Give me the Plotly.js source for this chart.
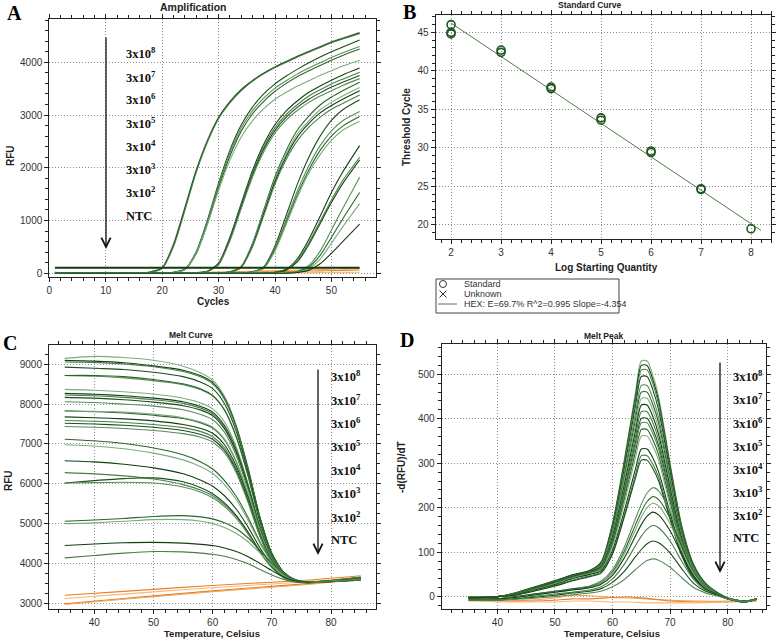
<!DOCTYPE html>
<html><head><meta charset="utf-8">
<script src="https://cdn.plot.ly/plotly-3.0.1.min.js"></script>
<style>html,body{margin:0;padding:0;background:#fff}#plot{width:778px;height:644px}</style>
</head><body><div id="plot"></div>
<script>
// ---------- Panel A: amplification (RFU per cycle) ----------
const ampCycles = [1,4,8,12,16,18,20,22,24,26,28,30,32,34,36,38,40,42,44,46,48,50,52,55];
const amp3e8 = [
 [20,5,0,0,5,30,110,560,1250,1950,2520,2960,3250,3480,3650,3790,3910,4020,4120,4210,4300,4390,4460,4570],
 [15,3,0,0,4,25,100,530,1220,1930,2500,2950,3250,3480,3650,3790,3910,4010,4110,4200,4290,4380,4450,4555],
 [10,0,0,0,3,20,90,500,1180,1900,2480,2930,3230,3460,3640,3780,3900,4000,4100,4190,4280,4370,4440,4540]];
const amp3e7 = [
 [10,2,0,0,0,0,5,20,80,400,1000,1710,2330,2810,3150,3400,3590,3740,3870,3990,4100,4200,4290,4420],
 [10,2,0,0,0,0,4,18,75,390,980,1670,2280,2750,3080,3320,3510,3650,3780,3890,3990,4090,4180,4300],
 [5,0,0,0,0,0,3,15,65,360,930,1620,2220,2690,3020,3260,3450,3600,3730,3840,3940,4040,4130,4250],
 [5,0,0,0,0,0,3,15,70,370,920,1570,2140,2580,2890,3120,3300,3430,3550,3650,3750,3840,3930,4040]];
const amp3e6 = [
 [10,0,0,0,0,0,0,0,0,10,40,195,680,1320,1945,2445,2820,3080,3270,3430,3550,3660,3760,3890],
 [10,0,0,0,0,0,0,0,0,8,38,185,660,1290,1900,2390,2760,3010,3200,3360,3480,3590,3680,3810],
 [8,0,0,0,0,0,0,0,0,7,35,175,640,1260,1860,2350,2710,2960,3150,3300,3420,3530,3620,3750],
 [8,0,0,0,0,0,0,0,0,6,30,160,610,1220,1820,2300,2660,2910,3090,3240,3360,3460,3560,3690]];
const amp3e5 = [
 [5,0,0,0,0,0,0,0,0,0,0,5,30,130,565,1200,1830,2330,2720,2980,3190,3340,3460,3620],
 [5,0,0,0,0,0,0,0,0,0,0,5,28,125,550,1170,1780,2270,2650,2890,3100,3240,3360,3520],
 [5,0,0,0,0,0,0,0,0,0,0,4,25,115,520,1130,1740,2220,2590,2840,3040,3180,3300,3460],
 [5,0,0,0,0,0,0,0,0,0,0,4,22,110,500,1090,1690,2160,2520,2770,2960,3110,3220,3380]];
const amp3e4 = [
 [5,0,0,0,0,0,0,0,0,0,0,0,0,5,28,120,520,1100,1700,2200,2600,2900,3100,3290],
 [5,0,0,0,0,0,0,0,0,0,0,0,0,5,25,110,480,1020,1570,2040,2420,2700,2890,3065],
 [5,0,0,0,0,0,0,0,0,0,0,0,0,4,22,100,450,970,1500,1960,2330,2600,2790,2970],
 [5,0,0,0,0,0,0,0,0,0,0,0,0,4,20,90,420,930,1450,1900,2250,2520,2710,2880]];
const amp3e3 = [
 [5,0,0,0,0,0,0,0,0,0,0,0,0,0,0,5,20,80,280,640,1080,1530,1920,2420],
 [5,0,0,0,0,0,0,0,0,0,0,0,0,0,0,5,18,70,250,580,980,1390,1760,2200],
 [5,0,0,0,0,0,0,0,0,0,0,0,0,0,0,3,15,60,220,540,940,1340,1700,2150]];
const amp3e2 = [
 [5,0,0,0,0,0,0,0,0,0,0,0,0,0,0,0,0,5,40,150,420,820,1230,1820],
 [5,0,0,0,0,0,0,0,0,0,0,0,0,0,0,0,0,3,30,120,340,680,1030,1530],
 [5,0,0,0,0,0,0,0,0,0,0,0,0,0,0,0,0,2,20,90,270,570,880,1320],
 [5,0,0,0,0,0,0,0,0,0,0,0,0,0,0,0,0,2,15,60,180,380,600,930]];
const ampNTC = [
 [0,0,0,0,0,0,0,5,10,15,20,25,30,35,40,45,50,55,60,66,72,78,84,92],
 [0,0,0,0,0,0,0,0,3,6,9,12,15,18,22,26,30,34,38,42,46,50,55,62],
 [5,0,0,-3,-5,-5,-5,-5,-5,-5,-4,-3,-2,0,2,4,6,8,10,12,14,16,18,20]];
const thresholdCycles = [1,55];
const thresholdRFU = [105,105];

// ---------- Panel B: standard curve ----------
const stdLogQ = [2,2,2,3,3,4,4,5,5,6,6,7,7,8];
const stdCt   = [46.0,45.0,44.8,42.7,42.4,37.9,37.7,33.9,33.6,29.6,29.4,24.7,24.6,19.5];
const regLogQ = [2,8.2];
const regCt   = [46.2,19.3];

// ---------- Panel C: melt curve ----------
const meltT = [35,40,45,50,55,58,60,62,64,66,68,70,72,74,76,80,85];
const meltHigh = [
 [9150,9200,9170,9100,8950,8780,8600,8200,7460,6400,5160,4260,3780,3590,3530,3570,3660],
 [9100,9080,9040,8960,8850,8710,8540,8150,7430,6370,5150,4250,3780,3590,3530,3570,3650],
 [9060,9050,9010,8940,8820,8680,8510,8120,7400,6350,5140,4250,3770,3590,3530,3570,3650],
 [8930,8900,8870,8800,8690,8550,8390,8010,7310,6280,5100,4230,3770,3580,3530,3560,3640],
 [8720,8700,8660,8590,8490,8360,8200,7840,7160,6180,5030,4200,3760,3580,3530,3560,3640],
 [8720,8720,8690,8620,8510,8380,8220,7860,7180,6200,5040,4200,3760,3580,3530,3560,3630],
 [8370,8350,8310,8250,8150,8030,7880,7550,6920,6000,4930,4160,3750,3580,3530,3560,3620],
 [8270,8250,8210,8150,8060,7940,7800,7460,6850,5950,4900,4150,3740,3580,3530,3560,3620],
 [8230,8210,8170,8110,8020,7900,7760,7430,6820,5930,4890,4140,3740,3580,3530,3560,3610],
 [8170,8150,8110,8050,7960,7850,7710,7380,6780,5900,4880,4130,3740,3580,3530,3560,3610],
 [8060,8040,8000,7950,7860,7740,7610,7290,6700,5840,4850,4120,3730,3570,3530,3560,3610],
 [7830,7810,7780,7720,7640,7530,7400,7100,6540,5720,4780,4090,3720,3570,3530,3560,3600],
 [7820,7820,7800,7750,7660,7550,7420,7120,6560,5730,4790,4090,3720,3570,3530,3560,3600],
 [7680,7660,7630,7580,7490,7390,7270,6980,6440,5650,4730,4070,3720,3570,3530,3560,3600],
 [7590,7570,7540,7490,7410,7310,7180,6900,6370,5600,4710,4060,3710,3570,3530,3550,3600],
 [7520,7500,7470,7420,7340,7240,7120,6840,6320,5560,4690,4050,3710,3570,3530,3550,3600],
 [7440,7420,7390,7340,7260,7170,7050,6780,6270,5520,4670,4040,3710,3570,3530,3550,3590]];
const meltMid = [
 [7120,7080,7010,6900,6730,6550,6370,6080,5680,5150,4540,4040,3710,3570,3530,3550,3600],
 [6980,6950,6880,6770,6600,6430,6260,5980,5600,5080,4500,4020,3700,3560,3530,3550,3600],
 [6580,6550,6490,6400,6250,6090,5940,5700,5360,4910,4390,3960,3680,3560,3530,3550,3590],
 [6280,6250,6200,6120,5980,5840,5700,5480,5180,4770,4300,3920,3670,3560,3530,3550,3590],
 [6020,6080,6130,6150,6050,5900,5750,5520,5200,4780,4300,3900,3650,3550,3520,3550,3590],
 [6020,6030,6040,6020,5920,5790,5650,5430,5130,4730,4270,3890,3650,3550,3520,3550,3590]];
const meltLow = [
 [5060,5090,5130,5180,5200,5170,5120,5020,4870,4640,4330,4000,3720,3570,3530,3550,3600],
 [5000,5020,5060,5100,5100,5060,5000,4900,4750,4540,4260,3960,3700,3560,3520,3550,3590],
 [4450,4490,4520,4530,4510,4480,4450,4390,4300,4170,4000,3820,3660,3560,3520,3540,3580],
 [4140,4200,4260,4300,4290,4260,4230,4180,4100,3990,3850,3710,3600,3530,3510,3540,3580]];
const meltNtcT = [35,45,55,65,75,85];
const meltNTC = [
 [3200,3300,3400,3490,3570,3690],
 [3120,3230,3340,3440,3530,3650],
 [2990,3120,3250,3370,3480,3620],
 [2970,3100,3230,3350,3460,3600]];

// ---------- Panel D: melt peak ----------
const peakT = [35,40,43,46,50,53,56,58,60,62,64,65,66,67,68,70,72,74,76,78,80,83,85];
const peakHigh = [
 [0,0,8,20,35,48,58,78,166,305,460,530,530,498,449,300,161,75,32,11,-3,-10,-5],
 [-2,0,8,20,36,49,59,77,163,299,452,520,520,488,441,294,158,74,32,11,-3,-10,-5],
 [0,0,7,19,34,47,57,76,160,294,443,510,510,479,433,288,155,72,31,10,-3,-10,-5],
 [-3,0,7,19,34,47,57,75,155,285,430,495,495,465,420,280,150,70,30,10,-3,-10,-5],
 [0,0,7,18,33,46,56,73,149,274,413,475,475,446,403,269,144,67,29,10,-3,-10,-5],
 [-2,0,6,18,33,46,56,72,144,265,400,460,460,432,391,260,140,65,28,9,-3,-11,-5],
 [0,0,6,17,32,45,55,70,140,257,387,446,446,419,378,252,135,63,27,9,-3,-11,-6],
 [-3,0,6,17,32,45,55,68,135,248,374,431,431,405,365,244,131,61,26,9,-4,-11,-6],
 [0,0,5,16,31,44,54,66,130,239,361,416,416,391,353,235,126,59,25,8,-4,-11,-6],
 [-2,0,5,16,31,44,54,65,126,231,348,401,401,377,340,227,122,57,24,8,-4,-11,-6],
 [0,0,5,15,30,43,53,64,122,225,340,391,391,367,332,221,119,55,24,8,-4,-11,-6],
 [-3,0,5,15,30,43,53,62,118,217,327,376,376,353,319,213,114,53,23,8,-4,-12,-6],
 [0,0,4,14,29,42,52,60,113,208,314,361,361,339,307,204,110,51,22,7,-4,-12,-6],
 [-2,0,4,13,27,40,50,58,104,191,288,332,332,312,281,188,101,47,20,7,-4,-12,-6],
 [0,0,3,12,25,37,47,55,99,182,275,317,317,298,269,179,96,45,19,6,-4,-12,-6],
 [-3,0,3,11,24,35,45,53,96,177,267,307,307,288,260,174,93,43,19,6,-4,-12,-6]];
const peakLow = [
 [-5,-5,0,5,12,18,24,35,61,110,176,208,233,245,238,191,123,61,25,7,-5,-12,-6],
 [-5,-5,0,5,12,17,22,32,56,101,162,191,214,225,218,176,113,56,23,7,-5,-12,-6],
 [-5,-5,-2,3,10,15,20,30,53,95,151,179,200,210,204,164,105,53,21,6,-5,-12,-6],
 [-5,-5,-2,3,10,15,20,28,48,86,137,162,181,190,184,148,95,48,19,6,-5,-12,-6],
 [-8,-8,-5,0,6,10,15,22,40,72,115,136,152,160,155,125,80,40,16,5,-5,-12,-6],
 [-8,-8,-5,-2,3,8,12,18,32,56,90,106,119,125,121,98,63,31,13,4,-5,-12,-6],
 [-8,-8,-6,-4,0,4,8,12,22,38,61,72,81,85,82,66,43,21,9,2,-5,-12,-6]];
const peakNtcT = [35,40,45,50,53,56,60,63,66,70,75,80,85];
const peakNTC = [
 [-5,-8,-8,-3,3,2,-2,-3,-5,-8,-10,-10,-8],
 [-8,-10,-10,-8,-5,-5,-2,-1,-4,-10,-12,-12,-10],
 [-10,-12,-12,-12,-10,-10,-12,-12,-14,-14,-14,-12,-10]];

const dilutionLabels = ['3x10<sup>8</sup>','3x10<sup>7</sup>','3x10<sup>6</sup>','3x10<sup>5</sup>','3x10<sup>4</sup>','3x10<sup>3</sup>','3x10<sup>2</sup>','NTC'];

// ---------- build ----------
const W = 778, H = 644;
const px = v => v / W, py = v => 1 - v / H;
const greens = ['#1b4d1b','#5a8c5a','#2a662a','#7eab7e','#123f12','#4a7d4a'];
const oranges = ['#f2a65a','#e8822a','#f7b878','#e57a1f'];
const traces = [];
let gi = 0;
function addLines(xs, sets, xa, ya, palette, w) {
  sets.forEach(ys => {
    traces.push({x: xs, y: ys, xaxis: xa, yaxis: ya, mode: 'lines', type: 'scatter',
      line: {color: palette[gi++ % palette.length], width: w, shape: 'spline', smoothing: 0.7},
      hoverinfo: 'skip', showlegend: false});
  });
}
addLines(ampCycles, ampNTC, 'x', 'y', oranges, 1.1);
[amp3e8, amp3e7, amp3e6, amp3e5, amp3e4, amp3e3, amp3e2].forEach(s => addLines(ampCycles, s, 'x', 'y', greens, 1.1));
traces.push({x: thresholdCycles, y: thresholdRFU, xaxis: 'x', yaxis: 'y', mode: 'lines',
  line: {color: '#0f3a0f', width: 1.8}, hoverinfo: 'skip', showlegend: false});

traces.push({x: regLogQ, y: regCt, xaxis: 'x2', yaxis: 'y2', mode: 'lines',
  line: {color: '#4a7d4a', width: 1}, hoverinfo: 'skip', showlegend: false});
traces.push({x: stdLogQ, y: stdCt, xaxis: 'x2', yaxis: 'y2', mode: 'markers',
  marker: {symbol: 'circle-open', size: 8, color: '#1f561f', line: {width: 1.6, color: '#1f561f'}},
  hoverinfo: 'skip', showlegend: false});

addLines(meltNtcT, meltNTC, 'x3', 'y3', oranges, 1.1);
[meltHigh, meltMid, meltLow].forEach(s => addLines(meltT, s, 'x3', 'y3', greens, 1.1));

addLines(peakNtcT, peakNTC, 'x4', 'y4', oranges, 1.1);
[peakHigh, peakLow].forEach(s => addLines(peakT, s, 'x4', 'y4', greens, 1.1));

const tickFont = {family: 'Liberation Sans, Arial, sans-serif', size: 10, color: '#333'};
function ax(domain, range, dtick, minor, anchor) {
  return {domain: domain, range: range, dtick: dtick, tick0: 0, anchor: anchor,
    showline: true, mirror: 'ticks', linecolor: '#222', linewidth: 1,
    ticks: 'outside', ticklen: 4, tickcolor: '#222', tickfont: tickFont,
    showgrid: true, gridcolor: '#8c8c8c', griddash: '1px,2px', gridwidth: 1, zeroline: false,
    minor: {dtick: minor, ticks: 'outside', ticklen: 3, tickcolor: '#222', showgrid: false},
    fixedrange: true};
}
const layout = {
  width: W, height: H, margin: {l: 0, r: 0, t: 0, b: 0},
  paper_bgcolor: '#fff', plot_bgcolor: '#fff', showlegend: false,
  xaxis:  ax([px(49.3), px(376)], [0, 57.9], 10, 2, 'y'),
  yaxis:  ax([py(277.3), py(19)], [-76, 4820], 1000, 200, 'x'),
  xaxis2: ax([px(435.7), px(771)], [1.693, 8.4], 1, 0.2, 'y2'),
  yaxis2: ax([py(239.3), py(15)], [18.14, 47.25], 5, 1, 'x2'),
  xaxis3: ax([px(49), px(375.7)], [32.34, 87.55], 10, 2, 'y3'),
  yaxis3: ax([py(609.3), py(345)], [2849, 9485], 1000, 250, 'x3'),
  xaxis4: ax([px(441.7), px(765.7)], [30.33, 86.6], 10, 2, 'y4'),
  yaxis4: ax([py(609.3), py(344.3)], [-28.5, 567.5], 100, 20, 'x4'),
  annotations: [], shapes: []
};
const A = layout.annotations;
const sans = 'Liberation Sans, Arial, sans-serif';
const serif = 'Liberation Serif, Times New Roman, serif';
function txt(x, y, t, size, opts) {
  A.push(Object.assign({xref: 'paper', yref: 'paper', x: px(x), y: py(y), text: t, showarrow: false,
    xanchor: 'center', yanchor: 'middle', font: {family: sans, size: size, color: '#222'}}, opts || {}));
}
// panel letters
[['A', 14, 13], ['B', 409, 12], ['C', 10, 343], ['D', 407, 340]].forEach(l =>
  txt(l[1], l[2], '<b>' + l[0] + '</b>', 20, {font: {family: serif, size: 20, color: '#000'}}));
// titles
txt(193, 7, '<b>Amplification</b>', 10.5);
txt(590, 5, '<b>Standard Curve</b>', 8.5);
txt(191, 335, '<b>Melt Curve</b>', 8.5);
txt(603, 336, '<b>Melt Peak</b>', 8.5);
// axis titles
txt(213, 301, '<b>Cycles</b>', 10);
txt(10, 156, '<b>RFU</b>', 10, {textangle: -90});
txt(606, 267, '<b>Log Starting Quantity</b>', 10);
txt(407, 127, '<b>Threshold Cycle</b>', 10, {textangle: -90});
txt(212, 633, '<b>Temperature, Celsius</b>', 9.5);
txt(8, 480, '<b>RFU</b>', 10, {textangle: -90});
txt(612, 633, '<b>Temperature, Celsius</b>', 9.5);
txt(402, 467, '<b>-d(RFU)/dT</b>', 10, {textangle: -90});
// dilution labels + arrows
function labels(x0, ys) {
  dilutionLabels.forEach((t, i) => txt(x0, ys[i], '<b>' + t + '</b>', 12.5,
    {xanchor: 'left', font: {family: serif, size: 12.5, color: '#111'}}));
}
labels(124, [53, 77, 99, 123, 146, 169, 192, 216]);
labels(329, [376, 400, 423, 446, 470, 493, 517, 540]);
labels(731, [376, 399, 423, 446, 469, 492, 515, 538]);
function arrow(x, y0, y1) {
  A.push({xref: 'paper', yref: 'paper', x: px(x), y: py(y1), ax: 0, ay: -(y1 - y0), text: '',
    showarrow: true, arrowhead: 5, arrowsize: 1.4, arrowwidth: 1.3, arrowcolor: '#111', standoff: 0});
}
arrow(106, 36, 249);
arrow(318, 368, 555);
arrow(720, 361, 573);
// standard-curve legend box
const S = layout.shapes;
function pshape(o) { S.push(Object.assign({xref: 'paper', yref: 'paper'}, o)); }
pshape({type: 'rect', x0: px(436), x1: px(619), y0: py(313), y1: py(279), line: {color: '#444', width: 1}});
pshape({type: 'circle', x0: px(439.5), x1: px(446.5), y0: py(287.5), y1: py(280.5), line: {color: '#333', width: 1}});
pshape({type: 'line', x0: px(439.5), x1: px(446.5), y0: py(290.5), y1: py(297.5), line: {color: '#333', width: 1}});
pshape({type: 'line', x0: px(439.5), x1: px(446.5), y0: py(297.5), y1: py(290.5), line: {color: '#333', width: 1}});
pshape({type: 'line', x0: px(438), x1: px(457), y0: py(304), y1: py(304), line: {color: '#4a7d4a', width: 1}});
txt(462, 284, 'Standard', 9, {xanchor: 'left', font: {family: sans, size: 9, color: '#333'}});
txt(462, 294, 'Unknown', 9, {xanchor: 'left', font: {family: sans, size: 9, color: '#333'}});
txt(462, 304, 'HEX: E=69.7% R^2=0.995 Slope=-4.354', 9, {xanchor: 'left', font: {family: sans, size: 9, color: '#333'}});

Plotly.newPlot('plot', traces, layout, {staticPlot: true, displayModeBar: false});
</script></body></html>
